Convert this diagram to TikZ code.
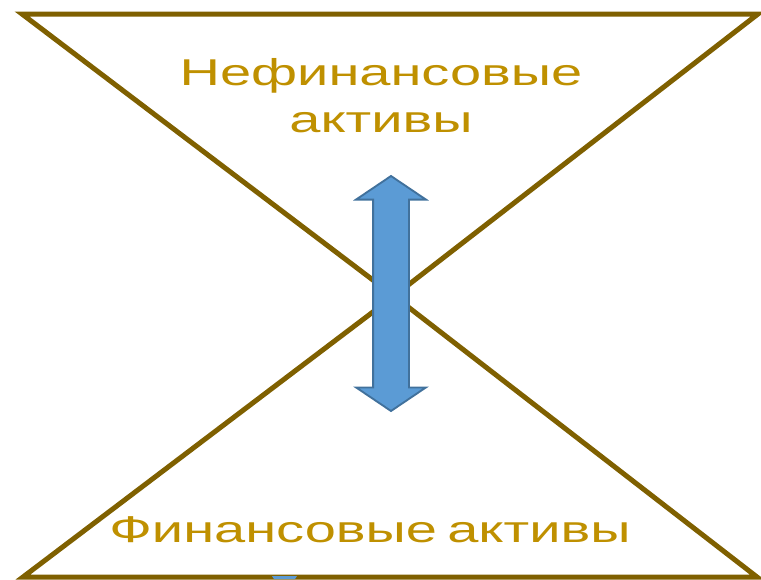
\documentclass[tikz,border=0pt]{standalone}
\usepackage{fontspec}
\usepackage{xcolor}
\usepackage{tikz}
\usetikzlibrary{shapes.arrows,calc}
\setmainfont{Liberation Sans}
\newfontfamily\labelfont[FakeStretch=1.5]{Liberation Sans}
\definecolor{edgegold}{HTML}{7F6000}
\definecolor{textgold}{HTML}{BF9000}
\definecolor{arrowblue}{HTML}{5B9BD5}
\definecolor{arrowline}{HTML}{41719C}

\begin{document}
\begin{tikzpicture}[
    x=0.75pt,y=-0.75pt,
    edge/.style={draw=edgegold,line width=3.75pt,line join=miter},
    label/.style={text=textgold,font=\labelfont\fontsize{28}{35.25}\selectfont,align=center,inner sep=0pt},
    link/.style={double arrow,draw=arrowline,fill=arrowblue,line width=1.4pt,
        inner sep=0pt,inner ysep=12.75pt,double arrow head extend=12.75pt,
        double arrow tip angle=112,minimum height=176.25pt,rotate=90},
]
    \useasboundingbox (0,0) rectangle (761,579);

    \coordinate (tl) at (22,14);
    \coordinate (tr) at (758,14);
    \coordinate (bl) at (23,577);
    \coordinate (br) at (757,577);
    \coordinate (mid) at (394,296);

    % two triangles meeting in the middle
    \draw[edge] (tl) -- (tr) -- (mid) -- cycle;
    \draw[edge] (bl) -- (br) -- (mid) -- cycle;

    \node[label,anchor=base] (nonfin) at (381,132) {Нефинансовые\\активы};
    \node[label,anchor=base] (fin) at (370,542) {Финансовые\hspace{-4pt}\ активы};

    \node[link] (swap) at (391,293.5) {};

    % clipped tip peeking in at the bottom edge
    \fill[arrowblue] (272,576) -- (297,576) -- (295,579) -- (274,579) -- cycle;
\end{tikzpicture}
\end{document}
